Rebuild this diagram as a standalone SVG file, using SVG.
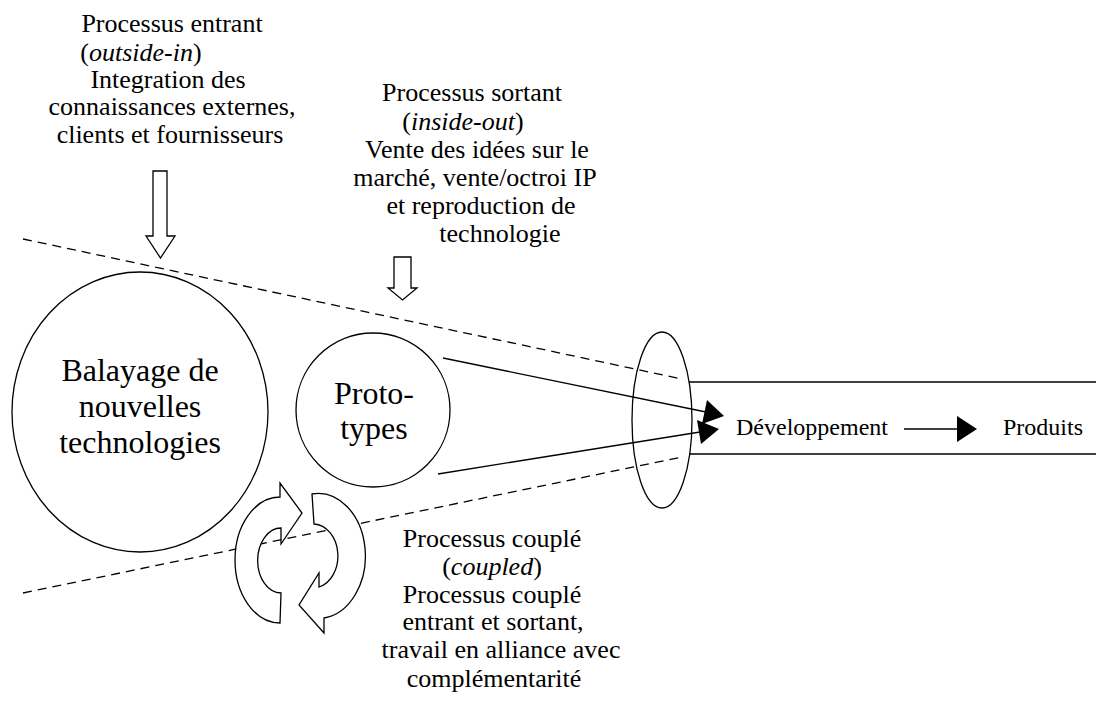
<svg xmlns="http://www.w3.org/2000/svg" width="1096" height="709" viewBox="0 0 1096 709">
<style>
.t{font-family:"Liberation Serif","Times New Roman","DejaVu Serif",serif;fill:#000;text-anchor:middle}
.s26{font-size:26px}
.s32{font-size:32px}
.s24{font-size:24px}
.sh{fill:#fff;stroke:#000;stroke-width:1.3}
.ln{fill:none;stroke:#000;stroke-width:1.3}
.dash{fill:none;stroke:#000;stroke-width:1.3;stroke-dasharray:9 6}
.head{fill:#000;stroke:none}
</style>
<rect width="1096" height="709" fill="#fff"/>
<g id="funnel">
<line class="dash" x1="23" y1="239" x2="682" y2="379"/>
<line class="dash" x1="23" y1="593" x2="682" y2="457"/>
<line class="ln" x1="689" y1="382" x2="1096" y2="382"/>
<line class="ln" x1="689" y1="454" x2="1096" y2="454"/>
</g>
<g id="balayage">
<ellipse class="sh" cx="140" cy="412" rx="128" ry="140"/>
<text class="t s32" x="140" y="381">Balayage de</text>
<text class="t s32" x="140" y="417">nouvelles</text>
<text class="t s32" x="140" y="453">technologies</text>
</g>
<g id="prototypes">
<circle class="sh" cx="373" cy="410" r="77"/>
<text class="t s32" x="374" y="404">Proto-</text>
<text class="t s32" x="374" y="439">types</text>
</g>
<g id="gate">
<ellipse class="ln" cx="662" cy="420" rx="30" ry="88"/>
</g>
<g id="outside-in">
<text class="t s26" x="172" y="32">Processus entrant</text>
<text class="t s26" x="141" y="61">(<tspan font-style="italic">outside-in</tspan>)</text>
<text class="t s26" x="168" y="88">Integration des</text>
<text class="t s26" x="172" y="115">connaissances externes,</text>
<text class="t s26" x="170" y="143">clients et fournisseurs</text>
<path class="sh" d="M153,171 L167,171 L167,236 L175,236 L160.5,258 L146,236 L153,236 Z"/>
</g>
<g id="inside-out">
<text class="t s26" x="472" y="101">Processus sortant</text>
<text class="t s26" x="463" y="130">(<tspan font-style="italic">inside-out</tspan>)</text>
<text class="t s26" x="477" y="158">Vente des idées sur le</text>
<text class="t s26" x="475" y="186">marché, vente/octroi IP</text>
<text class="t s26" x="481" y="214">et reproduction de</text>
<text class="t s26" x="500" y="242">technologie</text>
<path class="sh" d="M394,257 L411,257 L411,288 L417,288 L402.5,300 L388,288 L394,288 Z"/>
</g>
<g id="coupled">
<path class="sh" d="M280,623 A45,63 0 0 1 280,497 L280,483 L302,513 L281,544 L281,528 A23,32 0 0 0 281,593 Z"/>
<path class="sh" d="M312,494 A47,62 0 0 1 324,618 L324,633 L299,605 L319,573 L319,587 A25,32 0 0 0 314,524 Z"/>
<text class="t s26" x="492" y="547">Processus couplé</text>
<text class="t s26" x="492" y="575">(<tspan font-style="italic">coupled</tspan>)</text>
<text class="t s26" x="492" y="603">Processus couplé</text>
<text class="t s26" x="493" y="630">entrant et sortant,</text>
<text class="t s26" x="501" y="658">travail en alliance avec</text>
<text class="t s26" x="494" y="687">complémentarité</text>
</g>
<g id="developpement">
<text class="t s24" x="812" y="435">Développement</text>
</g>
<g id="produits">
<text class="t s24" x="1043" y="435">Produits</text>
</g>
<g id="connectors">
<line class="ln" x1="443" y1="358" x2="706" y2="412"/>
<polygon class="head" points="724,416 707,400 702,424"/>
<line class="ln" x1="438" y1="474" x2="700" y2="432"/>
<polygon class="head" points="719,429 697,420 701,444"/>
<line class="ln" x1="904" y1="429" x2="958" y2="429"/>
<polygon class="head" points="977,429 957,416 957,442"/>
</g>
</svg>
